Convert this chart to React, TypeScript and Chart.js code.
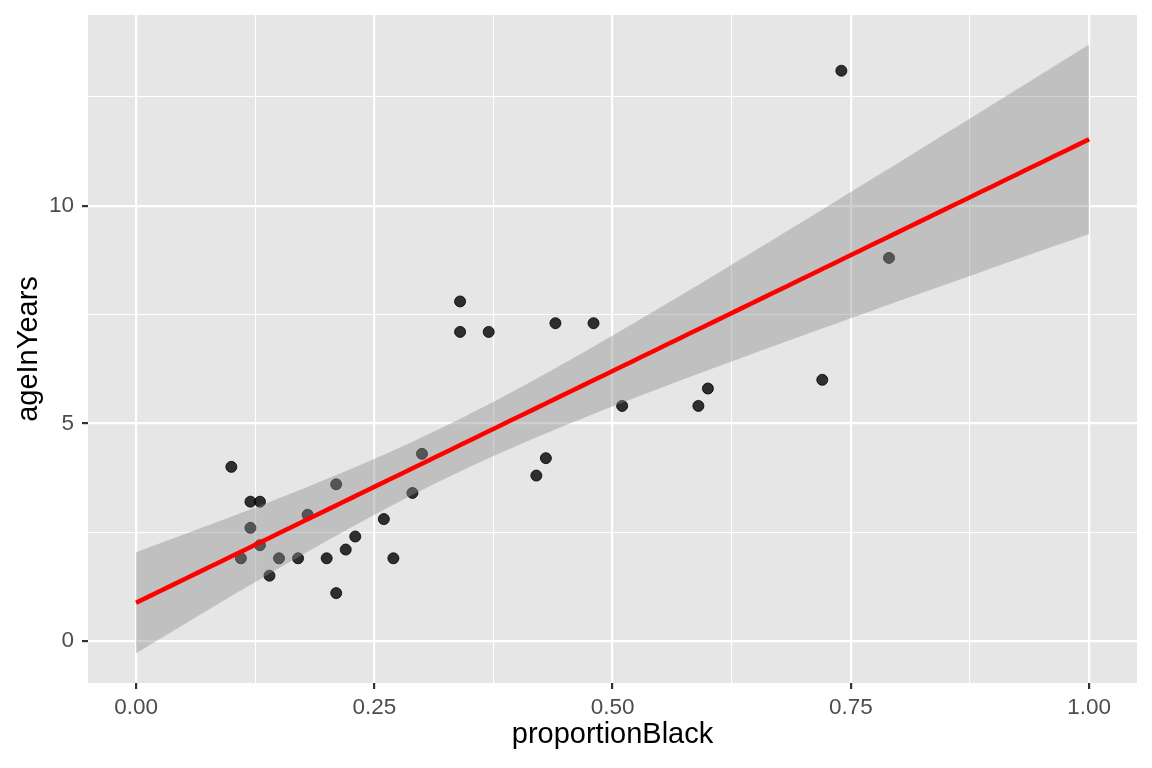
import React, { useEffect, useRef } from "react";
import { Chart, registerables } from "chart.js";

Chart.register(...registerables);

const proportionBlack = [
  0.10, 0.12, 0.13, 0.12, 0.11, 0.13, 0.14, 0.15, 0.17, 0.18, 0.20, 0.21, 0.21, 0.22, 0.23, 0.26,
  0.27, 0.29, 0.30, 0.34, 0.34, 0.37, 0.42, 0.43, 0.44, 0.48, 0.51, 0.59, 0.60, 0.72, 0.74, 0.79,
];
const ageInYears = [
  4.0, 3.2, 3.2, 2.6, 1.9, 2.2, 1.5, 1.9, 1.9, 2.9, 1.9, 1.1, 3.6, 2.1, 2.4, 2.8,
  1.9, 3.4, 4.3, 7.8, 7.1, 7.1, 3.8, 4.2, 7.3, 7.3, 5.4, 5.4, 5.8, 6.0, 13.1, 8.8,
];

// Axis ticks
const xMajorTicks = [0, 0.25, 0.5, 0.75, 1];
const xTickLabels = ["0.00", "0.25", "0.50", "0.75", "1.00"];
const xMinorTicks = [0.125, 0.375, 0.625, 0.875];
const yMajorTicks = [0, 5, 10];
const yTickLabels = ["0", "5", "10"];
const yMinorTicks = [2.5, 7.5, 12.5];

const xTitle = "proportionBlack";
const yTitle = "ageInYears";

// geom_smooth(method = "lm", fullrange = TRUE): linear fit with 95% confidence band
const fitRange = [0, 1];
const fitSteps = 80;
const tQuantile975df30 = 2.0423;

function linearFit() {
  const n = proportionBlack.length;
  const mx = proportionBlack.reduce((a, b) => a + b, 0) / n;
  const my = ageInYears.reduce((a, b) => a + b, 0) / n;
  let sxx = 0;
  let sxy = 0;
  for (let i = 0; i < n; i++) {
    sxx += (proportionBlack[i] - mx) ** 2;
    sxy += (proportionBlack[i] - mx) * (ageInYears[i] - my);
  }
  const b = sxy / sxx;
  const a = my - b * mx;
  let sse = 0;
  for (let i = 0; i < n; i++) sse += (ageInYears[i] - a - b * proportionBlack[i]) ** 2;
  const s = Math.sqrt(sse / (n - 2));
  const fit: { x: number; y: number }[] = [];
  const lo: { x: number; y: number }[] = [];
  const hi: { x: number; y: number }[] = [];
  for (let k = 0; k < fitSteps; k++) {
    const x = fitRange[0] + ((fitRange[1] - fitRange[0]) * k) / (fitSteps - 1);
    const y = a + b * x;
    const se = s * Math.sqrt(1 / n + (x - mx) ** 2 / sxx);
    fit.push({ x, y });
    lo.push({ x, y: y - tQuantile975df30 * se });
    hi.push({ x, y: y + tQuantile975df30 * se });
  }
  return { fit, lo, hi };
}

const FONT = "'Liberation Sans', Arial, Helvetica, sans-serif";

export default function App() {
  const ref = useRef<HTMLCanvasElement | null>(null);

  useEffect(() => {
    if (!ref.current) return;
    const { fit, lo, hi } = linearFit();
    const points = proportionBlack.map((x, i) => ({ x, y: ageInYears[i] }));

    const panelBg = {
      id: "panelBg",
      beforeDraw(chart: any) {
        const { ctx, chartArea } = chart;
        ctx.save();
        ctx.fillStyle = "#E6E6E6";
        ctx.fillRect(chartArea.left, chartArea.top, chartArea.right - chartArea.left, chartArea.bottom - chartArea.top);
        ctx.restore();
      },
    };

    const isMajor = (v: number, majors: number[]) => majors.some((m) => Math.abs(m - v) < 1e-9);
    const zeroPad = (scale: any) => {
      scale.paddingTop = 0;
      scale.paddingBottom = 0;
      scale.paddingLeft = 0;
      scale.paddingRight = 0;
    };

    const chart = new Chart(ref.current, {
      type: "scatter",
      data: {
        datasets: [
          {
            label: "points",
            data: points,
            backgroundColor: "rgba(0,0,0,0.8)",
            borderColor: "rgba(0,0,0,0.8)",
            borderWidth: 1,
            pointRadius: 5.5,
            order: 3,
          },
          {
            label: "upper",
            data: hi,
            showLine: true,
            pointRadius: 0,
            borderWidth: 0,
            borderColor: "rgba(0,0,0,0)",
            backgroundColor: "rgba(140,140,140,0.42)",
            fill: "+1",
            order: 2,
          },
          {
            label: "lower",
            data: lo,
            showLine: true,
            pointRadius: 0,
            borderWidth: 0,
            borderColor: "rgba(0,0,0,0)",
            fill: false,
            order: 2,
          },
          {
            label: "fit",
            data: fit,
            showLine: true,
            pointRadius: 0,
            borderWidth: 4.5,
            borderColor: "#FF0000",
            fill: false,
            order: 0,
          },
        ],
      },
      options: {
        animation: false,
        responsive: false,
        layout: { padding: { top: 15, right: 15, left: 0, bottom: 0 } },
        plugins: { legend: { display: false }, tooltip: { enabled: false } },
        scales: {
          x: {
            type: "linear",
            min: -0.0504,
            max: 1.0502,
            afterBuildTicks: (scale: any) => {
              scale.ticks = [...xMajorTicks, ...xMinorTicks].sort((a, b) => a - b).map((v) => ({ value: v }));
            },
            afterFit: (scale: any) => {
              scale.height = 85;
              zeroPad(scale);
            },
            border: { display: false },
            grid: {
              color: "#FFFFFF",
              lineWidth: (ctx: any) => (isMajor(ctx.tick?.value, xMajorTicks) ? 2.2 : 1.1),
              tickColor: (ctx: any) => (isMajor(ctx.tick?.value, xMajorTicks) ? "#333333" : "rgba(0,0,0,0)"),
              tickLength: 6,
              tickWidth: 2.2,
              drawTicks: true,
            },
            ticks: {
              autoSkip: false,
              maxRotation: 0,
              padding: 5,
              color: "#4D4D4D",
              font: { family: FONT, size: 22.5 },
              callback: (v: any) => {
                const i = xMajorTicks.findIndex((m) => Math.abs(m - v) < 1e-9);
                return i >= 0 ? xTickLabels[i] : "";
              },
            },
            title: {
              display: true,
              text: xTitle,
              color: "#000000",
              font: { family: FONT, size: 29 },
              padding: { top: 0, bottom: 16 },
            },
          },
          y: {
            type: "linear",
            min: -0.965,
            max: 14.38,
            afterBuildTicks: (scale: any) => {
              scale.ticks = [...yMajorTicks, ...yMinorTicks].sort((a, b) => a - b).map((v) => ({ value: v }));
            },
            afterFit: (scale: any) => {
              scale.width = 88;
              zeroPad(scale);
            },
            border: { display: false },
            grid: {
              color: "#FFFFFF",
              lineWidth: (ctx: any) => (isMajor(ctx.tick?.value, yMajorTicks) ? 2.2 : 1.1),
              tickColor: (ctx: any) => (isMajor(ctx.tick?.value, yMajorTicks) ? "#333333" : "rgba(0,0,0,0)"),
              tickLength: 6,
              tickWidth: 2.2,
              drawTicks: true,
            },
            ticks: {
              autoSkip: false,
              padding: 8,
              color: "#4D4D4D",
              font: { family: FONT, size: 22.5 },
              callback: (v: any) => {
                const i = yMajorTicks.findIndex((m) => Math.abs(m - v) < 1e-9);
                return i >= 0 ? yTickLabels[i] : "";
              },
            },
            title: {
              display: true,
              text: yTitle,
              color: "#000000",
              font: { family: FONT, size: 29 },
              padding: { top: 12, bottom: 0 },
            },
          },
        },
      },
      plugins: [panelBg],
    } as any);

    return () => chart.destroy();
  }, []);

  return (
    <div style={{ position: "fixed", left: 0, top: 0, width: 1152, height: 768, background: "#FFFFFF" }}>
      <canvas ref={ref} width={1152} height={768} style={{ display: "block" }} />
    </div>
  );
}
